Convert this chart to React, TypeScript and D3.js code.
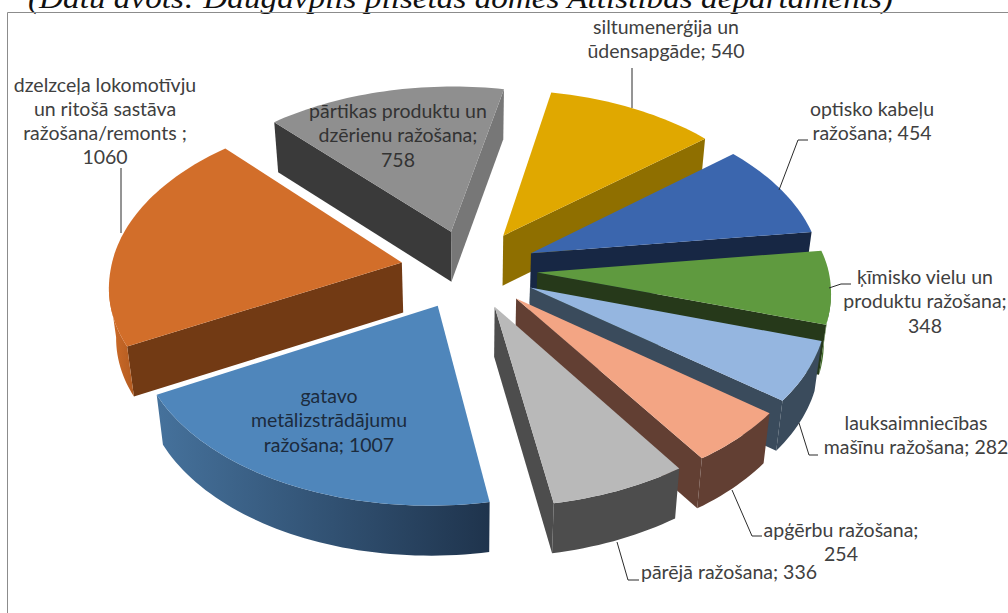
import React from "react";
import * as d3 from "d3";

// ---- data (clockwise from the start angle) ----
const categories = [
  "siltumenerģija un ūdensapgāde",
  "optisko kabeļu ražošana",
  "ķīmisko vielu un produktu ražošana",
  "lauksaimniecības mašīnu ražošana",
  "apģērbu ražošana",
  "pārējā ražošana",
  "gatavo metālizstrādājumu ražošana",
  "dzelzceļa lokomotīvju un ritošā sastāva ražošana/remonts",
  "pārtikas produktu un dzērienu ražošana",
];
const values = [540, 454, 348, 282, 254, 336, 1007, 1060, 758];
const titleText = "(Datu avots: Daugavpils pilsētas domes Attīstības departaments)";

// ---- styles ----
const topColors = ["#e0a800", "#3b66ae", "#5f9a3f", "#95b6e0", "#f3a584", "#b9b9b9", "#4f86bb", "#d26e2a", "#8f8f8f"];
const wallColors = ["#8f6f00", "#172744", "#26391a", "#3a4b5c", "#623f33", "#4d4d4d", "#2a4a6c", "#723a14", "#3a3a3a"];
const wallEndColors = ["#8f6f00", "#172744", "#26391a", "#3a4b5c", "#623f33", "#4d4d4d", "#23364f", "#723a14", "#777777"];
const rimColors = ["#8f6f00", "#172744", "#426b2b", "#3a4b5c", "#623f33", "#4d4d4d", "url(#steelRim)", "url(#orangeRim)", "#3a3a3a"];
const paintOrder = [8, 7, 0, 1, 2, 3, 4, 5, 6];

// ---- layout of labels (category index, centre x, text colour, lines with baselines) ----
const labelLayout: { x: number; fill: string; lines: [string, number][] }[] = [
  { x: 666, fill: "#404040", lines: [["siltumenerģija un", 34], ["ūdensapgāde; 540", 58]] },
  { x: 872, fill: "#404040", lines: [["optisko kabeļu", 116], ["ražošana; 454", 140]] },
  { x: 925, fill: "#404040", lines: [["ķīmisko vielu un", 284], ["produktu ražošana;", 308], ["348", 333]] },
  { x: 916, fill: "#404040", lines: [["lauksaimniecības", 430], ["mašīnu ražošana; 282", 454]] },
  { x: 841, fill: "#404040", lines: [["apģērbu ražošana;", 537], ["254", 561]] },
  { x: 729, fill: "#404040", lines: [["pārējā ražošana; 336", 579]] },
  { x: 329, fill: "#1c2b3d", lines: [["gatavo", 403], ["metālizstrādājumu", 427], ["ražošana; 1007", 452]] },
  { x: 105, fill: "#404040", lines: [["dzelzceļa lokomotīvju", 92], ["un ritošā sastāva", 116], ["ražošana/remonts ;", 140], ["1060", 164]] },
  { x: 398, fill: "#333333", lines: [["pārtikas produktu un", 118], ["dzērienu ražošana;", 142], ["758", 167]] },
];
const leaders: [number, number][][] = [
  [[632, 68], [632, 108]],
  [[808, 140], [798, 140], [779, 190]],
  [[851, 284], [841, 284], [829, 288]],
  [[818, 455], [809, 455], [799, 423]],
  [[762, 536], [752, 536], [732, 490]],
  [[639, 580], [628, 580], [617, 542]],
  [[121, 168], [121, 233]],
];

// ---- projection ----
const cx = 469, cy = 269, A = 291, B = 169, persp = 0.111, explode = 0.235, depth = 50, shrink = 0.98, shear = 4.5;
const startDeg = 11.5;
const xScale = d3.scaleLinear().domain([-1, 1]).range([cx - A, cx + A]);
const yScale = d3.scaleLinear().domain([-1, 1]).range([cy - B, cy + B]);

type P = [number, number];
const project = (t: number, r: number, bis: number): P => {
  const X = Math.sin(t) * r + explode * Math.sin(bis);
  const Y = -Math.cos(t) * r - explode * Math.cos(bis);
  const s = 1 / (1 - persp * Y);
  return [xScale(X * s) - shear * Math.max(0, Y), yScale(Y * s)];
};
const lower = (p: P): P => [cx + (p[0] - cx) * shrink, p[1] + depth];
const line = d3.line<P>();
const poly = (pts: P[]) => line(pts) + "Z";

const arcs = d3
  .pie<number>()
  .sort(null)
  .startAngle((startDeg * Math.PI) / 180)
  .endAngle((startDeg * Math.PI) / 180 + 2 * Math.PI)(values);

function facesViewer(a: P, b: P, inner: P) {
  let nx = -(b[1] - a[1]);
  let ny = b[0] - a[0];
  if (nx * (a[0] - inner[0]) + ny * (a[1] - inner[1]) < 0) {
    nx = -nx;
    ny = -ny;
  }
  return ny > 0;
}

function Slice({ i }: { i: number }) {
  const a = arcs[i];
  const bis = (a.startAngle + a.endAngle) / 2;
  const apex = project(0, 0, bis);
  const n = Math.max(8, Math.round((a.endAngle - a.startAngle) * 40));
  const rim: P[] = d3.range(n + 1).map((k) =>
    project(a.startAngle + ((a.endAngle - a.startAngle) * k) / n, 1, bis)
  );
  const centre: P = [d3.mean([apex, ...rim], (p) => p[0])!, d3.mean([apex, ...rim], (p) => p[1])!];
  const first = rim[0];
  const last = rim[n];
  const vis: P[][] = [];
  let run: P[] = [];
  for (let k = 0; k < n; k++) {
    if (facesViewer(rim[k], rim[k + 1], apex)) {
      if (!run.length) run.push(rim[k]);
      run.push(rim[k + 1]);
    } else if (run.length) {
      vis.push(run);
      run = [];
    }
  }
  if (run.length) vis.push(run);
  return (
    <g>
      {facesViewer(apex, first, centre) && (
        <path d={poly([apex, first, lower(first), lower(apex)])} fill={wallColors[i]} />
      )}
      {facesViewer(apex, last, centre) && (
        <path d={poly([apex, last, lower(last), lower(apex)])} fill={wallEndColors[i]} />
      )}
      {vis.map((r, k) => (
        <path key={k} d={poly([...r, ...r.slice().reverse().map(lower)])} fill={rimColors[i]} />
      ))}
      <path d={poly([apex, ...rim])} fill={topColors[i]} />
    </g>
  );
}

export default function App() {
  return (
    <svg
      width={1008}
      height={613}
      viewBox="0 0 1008 613"
      style={{ position: "absolute", left: 0, top: 0, background: "#fff", display: "block" }}
    >
      <defs>
        <linearGradient id="steelRim" gradientUnits="userSpaceOnUse" x1={160} x2={488} y1={0} y2={0}>
          <stop offset="0" stopColor="#45719b" />
          <stop offset="1" stopColor="#1f344d" />
        </linearGradient>
        <linearGradient id="orangeRim" gradientUnits="userSpaceOnUse" x1={108} x2={136} y1={0} y2={0}>
          <stop offset="0" stopColor="#d26e2a" />
          <stop offset="1" stopColor="#b05a20" />
        </linearGradient>
      </defs>
      <text
        x={28}
        y={8}
        textLength={865}
        lengthAdjust="spacingAndGlyphs"
        fontFamily="'Liberation Serif', serif"
        fontStyle="italic"
        fontSize={30}
        fill="#111"
      >
        {titleText}
      </text>
      <path d="M7.5 613V12.5H1008" fill="none" stroke="#8c8c8c" strokeWidth={1} />
      {paintOrder.map((i) => (
        <Slice key={categories[i]} i={i} />
      ))}
      {leaders.map((pts, i) => (
        <path key={i} d={line(pts)!} fill="none" stroke="#2b2b2b" strokeWidth={1} />
      ))}
      {labelLayout.map((l, i) => (
        <text key={i} textAnchor="middle" fontFamily="Lato, sans-serif" fontSize={19.5} fill={l.fill}>
          {l.lines.map(([s, y], k) => (
            <tspan key={k} x={l.x} y={y}>
              {s}
            </tspan>
          ))}
        </text>
      ))}
    </svg>
  );
}
